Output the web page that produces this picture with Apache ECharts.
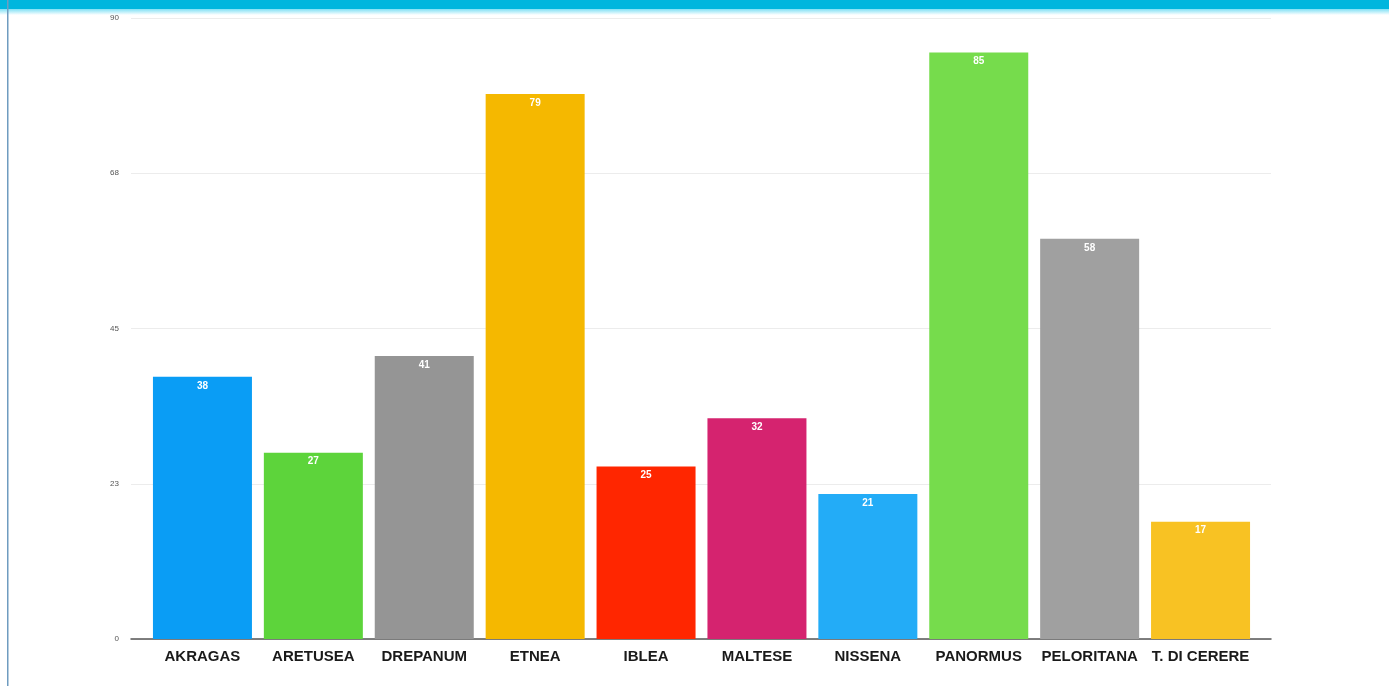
<!DOCTYPE html>
<html>
<head>
<meta charset="utf-8">
<script src="https://cdn.jsdelivr.net/npm/echarts@6/dist/echarts.min.js"></script>
<style>html,body{margin:0;padding:0;background:#fff;}#c{width:1389px;height:686px;}</style>
</head>
<body>
<div id="c"></div>
<script>
const categories = ['AKRAGAS','ARETUSEA','DREPANUM','ETNEA','IBLEA','MALTESE','NISSENA','PANORMUS','PELORITANA','T. DI CERERE'];
const values = [38, 27, 41, 79, 25, 32, 21, 85, 58, 17];
const barColors = ['#0a9df5','#5dd43b','#959595','#f5b800','#ff2600','#d5236f','#23acf7','#76dc4c','#a0a0a0','#f8c223'];
const yMin = 0, yMax = 90, yInterval = 22.5;

const chart = echarts.init(document.getElementById('c'), null, {renderer:'canvas'});
chart.setOption({
  backgroundColor: '#ffffff',
  animation: false,
  graphic: [
    {type:'rect', shape:{x:0,y:0,width:1389,height:9}, style:{fill:'#00b6de'}, z:10},
    {type:'rect', shape:{x:0,y:9,width:1389,height:6}, style:{fill:new echarts.graphic.LinearGradient(0,0,0,1,[{offset:0,color:'#7fe0f5'},{offset:1,color:'#ffffff'}])}, z:10},
    {type:'rect', shape:{x:7,y:0,width:1.5,height:686}, style:{fill:'#6f9cc0'}, z:10}
  ],
  grid: [
    {left:131, right:118, top:18, bottom:47},
    {left:147, right:133, top:18, bottom:47}
  ],
  xAxis: [
    {type:'category', gridIndex:0, data:categories, axisLabel:{show:false}, axisTick:{show:false},
     axisLine:{show:true, lineStyle:{color:'#555', width:1.5}}, splitLine:{show:false}},
    {type:'category', gridIndex:1, data:categories, axisTick:{show:false}, axisLine:{show:false},
     axisLabel:{interval:0, color:'#1a1a1a', fontFamily:'Liberation Sans, Arial, sans-serif', fontWeight:'bold', fontSize:15, margin:10}}
  ],
  yAxis: [
    {type:'value', gridIndex:0, min:yMin, max:yMax, interval:yInterval,
     axisLine:{show:false}, axisTick:{show:false},
     axisLabel:{color:'#555', fontSize:8, margin:12, formatter:v=>String(Math.round(v))},
     splitLine:{show:true, lineStyle:{color:'#ececec', width:1}}},
    {type:'value', gridIndex:1, min:yMin, max:yMax, interval:yInterval, show:false}
  ],
  series: [{
    type:'bar', xAxisIndex:1, yAxisIndex:1, barWidth:99,
    data: values.map((v,i)=>({value:v, itemStyle:{color:barColors[i]}})),
    label:{show:true, position:'insideTop', distance:4, color:'#ffffff', fontSize:10, fontWeight:'bold', fontFamily:'Liberation Sans, Arial, sans-serif'}
  }]
});
</script>
</body>
</html>
